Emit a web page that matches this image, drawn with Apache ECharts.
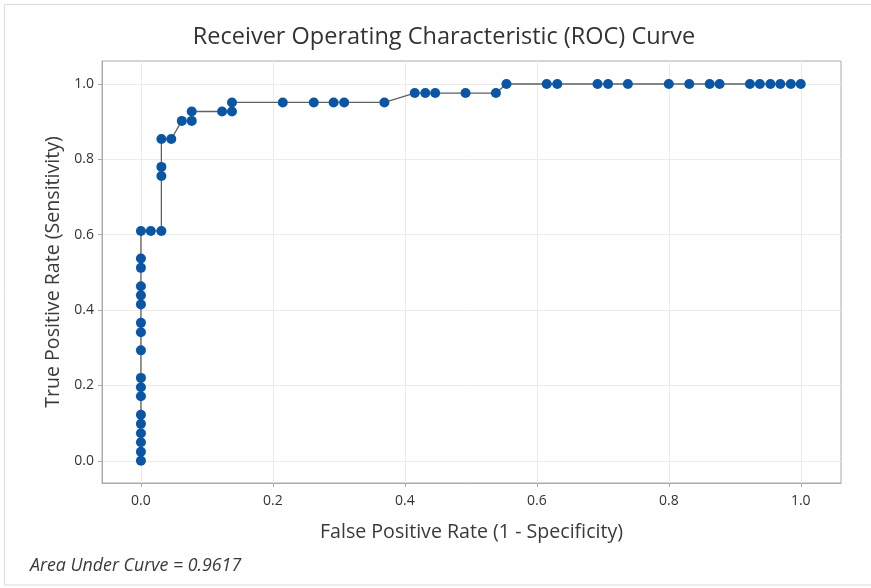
<!DOCTYPE html>
<html>
<head>
<meta charset="utf-8">
<script src="https://cdn.jsdelivr.net/npm/echarts@6/dist/echarts.min.js"></script>
<style>
  html, body { margin: 0; padding: 0; background: #fff; }
  #chart { width: 871px; height: 588px; }
</style>
</head>
<body>
<div id="chart"></div>
<script>
// ROC points (false positive rate, true positive rate)
const fpr = [
  0, 0, 0, 0, 0, 0, 0, 0, 0, 0, 0, 0, 0, 0, 0, 0, 0, 0,
  0.015, 0.031, 0.031, 0.031, 0.031, 0.046, 0.062, 0.077, 0.077, 0.123, 0.138, 0.138,
  0.215, 0.262, 0.292, 0.308, 0.369, 0.415, 0.431, 0.446, 0.492, 0.538,
  0.554, 0.615, 0.631, 0.692, 0.708, 0.738, 0.800, 0.831, 0.862, 0.877,
  0.923, 0.938, 0.954, 0.969, 0.985, 1.0
]
const tpr = [
  0, 0.024, 0.049, 0.073, 0.098, 0.122, 0.171, 0.195, 0.220, 0.293, 0.341, 0.366,
  0.415, 0.439, 0.463, 0.512, 0.537, 0.610,
  0.610, 0.610, 0.756, 0.780, 0.854, 0.854, 0.902, 0.902, 0.927, 0.927, 0.927, 0.951,
  0.951, 0.951, 0.951, 0.951, 0.951, 0.976, 0.976, 0.976, 0.976, 0.976,
  1, 1, 1, 1, 1, 1, 1, 1, 1, 1,
  1, 1, 1, 1, 1, 1
]
const tickValues = [0, 0.2, 0.4, 0.6, 0.8, 1.0]
const aucText = 'Area Under Curve = 0.9617'

const chart = echarts.init(document.getElementById('chart'))

const axisCommon = {
  type: 'value',
  min: -0.059,
  max: 1.061,
  nameLocation: 'middle',
  nameTextStyle: { fontFamily: 'Open Sans', fontSize: 19.6, color: '#3a3a3a' },
  axisLine: { show: true, onZero: false, lineStyle: { color: '#aaaaaa', width: 1 } },
  axisTick: { show: true, length: 4, customValues: tickValues, lineStyle: { color: '#aaaaaa' } },
  axisLabel: {
    customValues: tickValues,
    formatter: v => v.toFixed(1),
    fontFamily: 'Open Sans',
    fontSize: 14,
    color: '#333333',
  },
  splitLine: { show: true, lineStyle: { color: '#ebebeb', width: 1 } },
}

const option = {
  animation: false,
  backgroundColor: '#fff',
  title: {
    text: 'Receiver Operating Characteristic (ROC) Curve',
    left: 439,
    top: 20,
    textAlign: 'center',
    textStyle: { fontFamily: 'Open Sans', fontSize: 23.5, fontWeight: 'normal', color: '#333333' },
  },
  grid: {
    left: 102,
    right: 30,
    top: 61,
    bottom: 105,
    show: true,
    borderColor: '#aaaaaa',
    borderWidth: 1,
  },
  xAxis: {
    ...axisCommon,
    name: 'False Positive Rate (1 - Specificity)',
    nameGap: 39,
    axisLabel: { ...axisCommon.axisLabel, margin: 11 },
  },
  yAxis: {
    ...axisCommon,
    name: 'True Positive Rate (Sensitivity)',
    nameGap: 37,
    axisLabel: { ...axisCommon.axisLabel, margin: 8 },
  },
  graphic: [
    {
      type: 'rect',
      shape: { x: 4.5, y: 4.5, width: 880, height: 580.5 },
      style: { fill: 'none', stroke: '#dcdcdc', lineWidth: 1 },
      silent: true,
    },
    {
      type: 'text',
      left: 30,
      top: 557,
      style: {
        text: aucText,
        fontFamily: 'Open Sans',
        fontStyle: 'italic',
        fontSize: 17.8,
        fill: '#3a3a3a',
      },
    },
  ],
  series: [
    {
      type: 'line',
      data: fpr.map((x, i) => [x, tpr[i]]),
      symbol: 'circle',
      symbolSize: 10,
      showAllSymbol: true,
      lineStyle: { color: '#606060', width: 1.3 },
      itemStyle: { color: '#0a56a5' },
      emphasis: { disabled: true },
    },
  ],
}

chart.setOption(option)
</script>
</body>
</html>
